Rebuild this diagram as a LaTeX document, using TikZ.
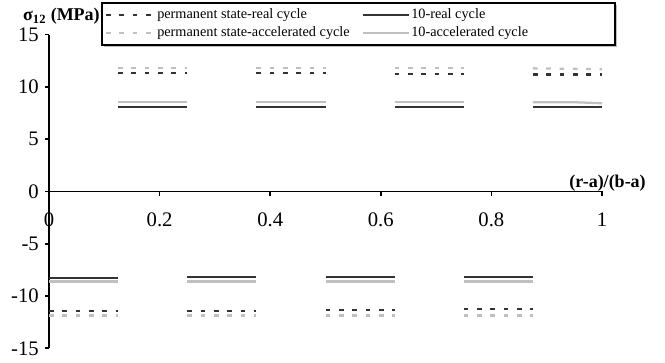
\documentclass[tikz,border=0pt]{standalone}
\usepackage{fontspec}
\setmainfont{Liberation Serif}
\definecolor{realcol}{HTML}{333333}
\definecolor{acccol}{HTML}{C0C0C0}
\tikzset{
	permreal/.style={draw=realcol, line width=1.7pt, dash pattern=on 3.5pt off 6.5pt},
	permacc/.style={draw=acccol, line width=1.7pt, dash pattern=on 3.5pt off 6.5pt},
	tenreal/.style={draw=realcol, line width=1.7pt},
	tenacc/.style={draw=acccol, line width=1.7pt},
	ylabel/.style={inner sep=0pt, anchor=east, xshift=-7.5pt, font=\fontsize{15.5}{18}\selectfont},
	xlabel/.style={inner sep=0pt, anchor=north, yshift=-16pt, font=\fontsize{15.5}{18}\selectfont},
	legendtext/.style={inner sep=0pt, anchor=west, font=\fontsize{10.7}{12}\selectfont},
	axistitle/.style={inner sep=0pt, font=\fontsize{13.5}{16}\selectfont\bfseries}
}
\begin{document}
\begin{tikzpicture}[x=0.75pt,y=-0.75pt]
	\useasboundingbox (0,0) rectangle (665,363);
	% legend
	\draw[gray!50, line width=1pt] (104,46) -- (616.5,46) -- (616.5,5);
	\draw[line width=0.8pt] (102,3) rectangle (615,45);
	\node (S12) at (100,16)	[axistitle, anchor=east]	{σ\textsubscript{12} (MPa)};
	\coordinate (PRa) at (106,15);	\coordinate (PRb) at (155,15);
	\coordinate (PAa) at (106,33);	\coordinate (PAb) at (155,33);
	\coordinate (TRa) at (363,15);	\coordinate (TRb) at (409,15);
	\coordinate (TAa) at (363,33);	\coordinate (TAb) at (409,33);
	\draw[permreal] (PRa) -- (PRb);
	\draw[permacc] (PAa) -- (PAb);
	\draw[tenreal, line width=1.2pt] (TRa) -- (TRb);
	\draw[tenacc, line width=1.2pt] (TAa) -- (TAb);
	\node (PR) at (157,15)	[legendtext]	{permanent state-real cycle};
	\node (PA) at (157,33)	[legendtext]	{permanent state-accelerated cycle};
	\node (TR) at (411,15)	[legendtext]	{10-real cycle};
	\node (TA) at (411,33)	[legendtext]	{10-accelerated cycle};
	\node (RBA) at (646,183)	[axistitle, anchor=east]	{(r-a)/(b-a)};
	% plot
	\begin{scope}[shift={(49,191.5)},x=414.75pt,y=7.84pt]
		\draw[line width=1.2pt] (0,-15) -- (0,15);
		\draw[line width=1.2pt] (0,0) -- (1,0);
		\draw[line width=1.2pt] (0,15) -- ++(-3pt,0) (0,10) -- ++(-3pt,0) (0,5) -- ++(-3pt,0)
			(0,0) -- ++(-3pt,0) (0,-5) -- ++(-3pt,0) (0,-10) -- ++(-3pt,0) (0,-15) -- ++(-3pt,0);
		\draw[line width=1.2pt] (0.2,0) -- ++(0,-3.5pt) (0.4,0) -- ++(0,-3.5pt) (0.6,0) -- ++(0,-3.5pt)
			(0.8,0) -- ++(0,-3.5pt) (1,0) -- ++(0,-3.5pt);
		\node (Y15) at (0, 15)	[ylabel]	{15};
		\node (Y10) at (0, 10)	[ylabel]	{10};
		\node (Y5) at (0, 5)	[ylabel]	{5};
		\node (Y0) at (0, 0)	[ylabel]	{0};
		\node (Ym5) at (0, -5)	[ylabel]	{-5};
		\node (Ym10) at (0,-10)	[ylabel]	{-10};
		\node (Ym15) at (0,-15)	[ylabel]	{-15};
		\node (X0) at (0, 0)	[xlabel]	{0};
		\node (X2) at (0.2,0)	[xlabel]	{0.2};
		\node (X4) at (0.4,0)	[xlabel]	{0.4};
		\node (X6) at (0.6,0)	[xlabel]	{0.6};
		\node (X8) at (0.8,0)	[xlabel]	{0.8};
		\node (X10) at (1, 0)	[xlabel]	{1};
		% positive half-periods
		\draw[permacc] (0.125,11.78) -- (0.25,11.78);
		\draw[permacc] (0.375,11.78) -- (0.5,11.78);
		\draw[permacc] (0.625,11.78) -- (0.75,11.78);
		\draw[permacc] (0.875,11.78) -- (1,11.7);
		\draw[permreal] (0.125,11.37) -- (0.25,11.37);
		\draw[permreal] (0.375,11.31) -- (0.5,11.31);
		\draw[permreal] (0.625,11.24) -- (0.75,11.24);
		\draw[permreal] (0.875,11.2) -- (1,11.2);
		\draw[tenacc] (0.125,8.54) -- (0.25,8.54);
		\draw[tenacc] (0.375,8.54) -- (0.5,8.54);
		\draw[tenacc] (0.625,8.54) -- (0.75,8.54);
		\draw[tenacc] (0.875,8.54) -- (0.95,8.54) -- (1,8.44);
		\draw[tenreal] (0.125,8.11) -- (0.25,8.11);
		\draw[tenreal] (0.375,8.11) -- (0.5,8.11);
		\draw[tenreal] (0.625,8.11) -- (0.75,8.11);
		\draw[tenreal] (0.875,8.11) -- (1,8.11);
		% negative half-periods
		\draw[tenreal] (0,-8.25) -- (0.125,-8.25);
		\draw[tenreal] (0.25,-8.2) -- (0.375,-8.2);
		\draw[tenreal] (0.5,-8.2) -- (0.625,-8.2);
		\draw[tenreal] (0.75,-8.15) -- (0.875,-8.15);
		\draw[tenacc] (0,-8.6) -- (0.125,-8.6);
		\draw[tenacc] (0.25,-8.6) -- (0.375,-8.6);
		\draw[tenacc] (0.5,-8.6) -- (0.625,-8.6);
		\draw[tenacc] (0.75,-8.6) -- (0.875,-8.6);
		\draw[permreal] (0,-11.4) -- (0.125,-11.4);
		\draw[permreal] (0.25,-11.4) -- (0.375,-11.4);
		\draw[permreal] (0.5,-11.35) -- (0.625,-11.35);
		\draw[permreal] (0.75,-11.27) -- (0.875,-11.27);
		\draw[permacc] (0,-11.85) -- (0.125,-11.85);
		\draw[permacc] (0.25,-11.85) -- (0.375,-11.85);
		\draw[permacc] (0.5,-11.85) -- (0.625,-11.85);
		\draw[permacc] (0.75,-11.85) -- (0.875,-11.85);
	\end{scope}
\end{tikzpicture}
\end{document}
